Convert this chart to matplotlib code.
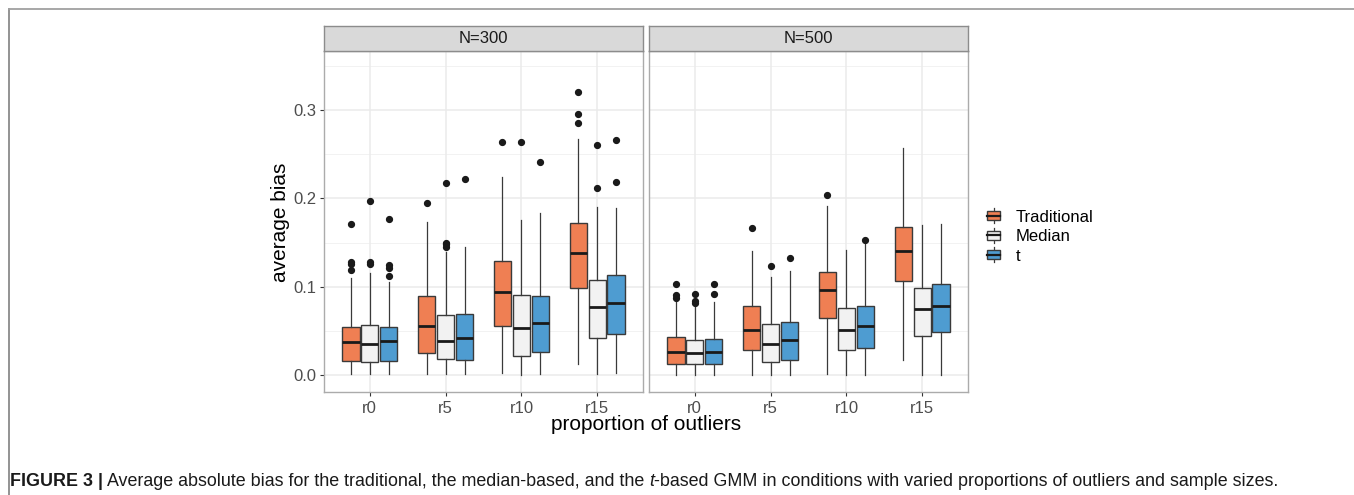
import matplotlib
matplotlib.use("Agg")
import matplotlib.pyplot as plt
from matplotlib.lines import Line2D
from matplotlib.patches import Rectangle
from matplotlib.legend_handler import HandlerBase

plt.rcParams['font.family'] = ['Liberation Sans', 'DejaVu Sans']

# ---------------- data ----------------
categories = ['r0', 'r5', 'r10', 'r15']
methods = ['Traditional', 'Median', 't']
panels = ['N=300', 'N=500']
colors = {'Traditional': '#EF7F53', 'Median': '#F2F2F2', 't': '#4E9CD1'}

# five-number summaries per category: (whisker low, q1, median, q3, whisker high)
n300_traditional = [(0.001, 0.016, 0.037, 0.054, 0.110),
                    (0.001, 0.025, 0.056, 0.089, 0.173),
                    (0.002, 0.0555, 0.0936, 0.129, 0.224),
                    (0.012, 0.099, 0.138, 0.1725, 0.267)]
n300_median = [(0.001, 0.0147, 0.0355, 0.057, 0.1155),
               (0.001, 0.018, 0.038, 0.068, 0.139),
               (0.000, 0.021, 0.053, 0.0906, 0.176),
               (0.001, 0.042, 0.0766, 0.1076, 0.190)]
n300_t = [(0.001, 0.016, 0.038, 0.054, 0.105),
          (0.001, 0.017, 0.042, 0.0695, 0.145),
          (0.001, 0.026, 0.059, 0.090, 0.184),
          (0.002, 0.046, 0.082, 0.113, 0.189)]
n500_traditional = [(0.000, 0.0128, 0.0257, 0.0427, 0.083),
                    (0.000, 0.0287, 0.0513, 0.078, 0.140),
                    (0.001, 0.065, 0.0963, 0.117, 0.191),
                    (0.017, 0.106, 0.1404, 0.168, 0.2567)]
n500_median = [(0.000, 0.012, 0.0245, 0.0396, 0.079),
               (0.000, 0.0147, 0.035, 0.0574, 0.111),
               (0.000, 0.0283, 0.0513, 0.0755, 0.1415),
               (0.000, 0.044, 0.075, 0.099, 0.170)]
n500_t = [(0.000, 0.0125, 0.0264, 0.041, 0.083),
          (0.000, 0.0174, 0.0396, 0.060, 0.118),
          (0.000, 0.030, 0.0558, 0.078, 0.149),
          (0.000, 0.049, 0.078, 0.1027, 0.171)]

# outliers per category
n300_traditional_out = [[0.119, 0.126, 0.128, 0.171], [0.195], [0.264], [0.286, 0.2955, 0.320]]
n300_median_out = [[0.126, 0.128, 0.197], [0.1453, 0.148, 0.150, 0.218], [0.264], [0.212, 0.2605]]
n300_t_out = [[0.112, 0.1215, 0.1245, 0.177], [0.222], [0.241], [0.219, 0.266]]
n500_traditional_out = [[0.087, 0.091, 0.103], [0.167], [0.204], []]
n500_median_out = [[0.082, 0.084, 0.092], [0.124], [], []]
n500_t_out = [[0.0914, 0.1027], [0.1325], [0.153], []]

yticks = [0.0, 0.1, 0.2, 0.3]
ytick_labels = ['0.0', '0.1', '0.2', '0.3']
minor_yticks = [0.05, 0.15, 0.25, 0.35]

panel_data = {
    'N=300': {'Traditional': (n300_traditional, n300_traditional_out),
              'Median': (n300_median, n300_median_out),
              't': (n300_t, n300_t_out)},
    'N=500': {'Traditional': (n500_traditional, n500_traditional_out),
              'Median': (n500_median, n500_median_out),
              't': (n500_t, n500_t_out)},
}

# ---------------- figure ----------------
W, H = 1354, 495
fig = plt.figure(figsize=(W / 100, H / 100), dpi=100)
fig.patch.set_facecolor('white')

def fx(px):
    return px / W

def fy(py):
    return 1 - py / H

panel_left = [324, 649]
panel_w = 319
panel_top, panel_bot = 51, 392
strip_top = 26

offsets = {'Traditional': -0.25, 'Median': 0.0, 't': 0.25}
box_w = 0.235
edge = '#3a3a3a'

axes = []
for i, pname in enumerate(panels):
    ax = fig.add_axes([fx(panel_left[i]), fy(panel_bot), panel_w / W, (panel_bot - panel_top) / H])
    axes.append(ax)
    ax.set_facecolor('white')
    ax.set_xlim(0.4, 4.6)
    ax.set_ylim(-0.0193, 0.367)
    # grid
    for yv in minor_yticks:
        ax.axhline(yv, color='#F0F0F0', lw=0.6, zorder=0)
    for yv in yticks:
        ax.axhline(yv, color='#EBEBEB', lw=1.1, zorder=0)
    for xv in range(1, len(categories) + 1):
        ax.axvline(xv, color='#EBEBEB', lw=1.1, zorder=0)

    for m in methods:
        five, outs = panel_data[pname][m]
        stats = []
        for (lo, q1, med, q3, hi), fl in zip(five, outs):
            stats.append({'whislo': lo, 'q1': q1, 'med': med, 'q3': q3, 'whishi': hi,
                          'fliers': fl})
        pos = [k + 1 + offsets[m] for k in range(len(categories))]
        ax.bxp(stats, positions=pos, widths=box_w, patch_artist=True, showcaps=False,
               manage_ticks=False,
               boxprops=dict(facecolor=colors[m], edgecolor=edge, linewidth=1.0),
               medianprops=dict(color='#1a1a1a', linewidth=2.0, solid_capstyle='butt'),
               whiskerprops=dict(color=edge, linewidth=0.9),
               flierprops=dict(marker='o', markerfacecolor='#1a1a1a', markeredgecolor='#1a1a1a',
                               markersize=4.2, linestyle='none'),
               zorder=3)

    ax.set_xticks(range(1, len(categories) + 1))
    ax.set_xticklabels(categories)
    ax.set_yticks(yticks)
    if i == 0:
        ax.set_yticklabels(ytick_labels)
        ax.tick_params(axis='y', length=3.2, width=0.8, color='#333333', labelcolor='#4D4D4D',
                       labelsize=12, pad=2)
    else:
        ax.set_yticklabels([])
        ax.tick_params(axis='y', length=0)
    ax.tick_params(axis='x', length=3.2, width=0.8, color='#333333', labelcolor='#4D4D4D',
                   labelsize=12, pad=3)
    for s in ax.spines.values():
        s.set_color('#ABABAB')
        s.set_linewidth(1.0)

    # strip
    sax = fig.add_axes([fx(panel_left[i]), fy(panel_top), panel_w / W, (panel_top - strip_top) / H])
    sax.set_facecolor('#D9D9D9')
    sax.set_xticks([])
    sax.set_yticks([])
    for s in sax.spines.values():
        s.set_color('#8C8C8C')
        s.set_linewidth(1.0)
    sax.text(0.5, 0.5, pname, ha='center', va='center', fontsize=12, color='#1A1A1A',
             transform=sax.transAxes)

fig.text(fx(281), fy(222), 'average bias', rotation=90, ha='center', va='center',
         fontsize=15, color='black')
fig.text(fx(646), fy(424), 'proportion of outliers', ha='center', va='center',
         fontsize=15, color='black')

# legend with boxplot-like keys
class BoxKey(HandlerBase):
    def __init__(self, face):
        super().__init__()
        self.face = face

    def create_artists(self, legend, orig_handle, xdescent, ydescent, width, height,
                       fontsize, trans):
        cx = -xdescent + width / 2
        top = -ydescent + height
        bot = -ydescent
        bw = width
        bh = height * 0.62
        by = -ydescent + (height - bh) / 2
        wl1 = Line2D([cx, cx], [bot, by], color=edge, lw=0.9, transform=trans)
        wl2 = Line2D([cx, cx], [by + bh, top], color=edge, lw=0.9, transform=trans)
        r = Rectangle((-xdescent, by), bw, bh, facecolor=self.face, edgecolor=edge, lw=1.0,
                      transform=trans)
        ml = Line2D([-xdescent, -xdescent + bw], [by + bh / 2] * 2, color='#1a1a1a', lw=1.6,
                    transform=trans)
        return [wl1, wl2, r, ml]

handles = [Rectangle((0, 0), 1, 1, facecolor=colors[m]) for m in methods]
handler_map = {h: BoxKey(colors[m]) for h, m in zip(handles, methods)}
fig.legend(handles, methods, handler_map=handler_map, loc='center left',
           bbox_to_anchor=(fx(987), fy(236)), frameon=False, fontsize=12,
           handlelength=0.8, handleheight=1.0, handletextpad=0.9, labelspacing=0.2,
           borderpad=0, borderaxespad=0)

# outer frame lines
fig.add_artist(Line2D([fx(9), fx(9)], [0, fy(8.5)], transform=fig.transFigure,
                      color='#8A8A8A', lw=1.3))
fig.add_artist(Line2D([fx(9), 1], [fy(8.5), fy(8.5)], transform=fig.transFigure,
                      color='#A0A0A0', lw=1.3))

# caption (bold label, regular text, italic t)
cap_family = ['Liberation Sans Narrow', 'Liberation Sans']
segments = [('FIGURE 3 |', 'bold', 'normal'),
            (' Average absolute bias for the traditional, the median-based, and the ', 'normal', 'normal'),
            ('t', 'normal', 'italic'),
            ('-based GMM in conditions with varied proportions of outliers and sample sizes.', 'normal', 'normal')]
target_w = 1279 - 10
renderer = fig.canvas.get_renderer()
fs = 11.5
for _ in range(3):
    texts = []
    x = fx(10)
    total = 0
    for txt, wgt, sty in segments:
        t = fig.text(x, fy(481), txt, fontsize=fs, fontweight=wgt, fontstyle=sty,
                     family=cap_family, color='#1a1a1a', ha='left', va='center')
        bb = t.get_window_extent(renderer=renderer)
        x += bb.width / W
        total += bb.width
        texts.append(t)
    if abs(total - target_w) < 3:
        break
    for t in texts:
        t.remove()
    fs = fs * target_w / total

fig.savefig('out.png', dpi=100)
